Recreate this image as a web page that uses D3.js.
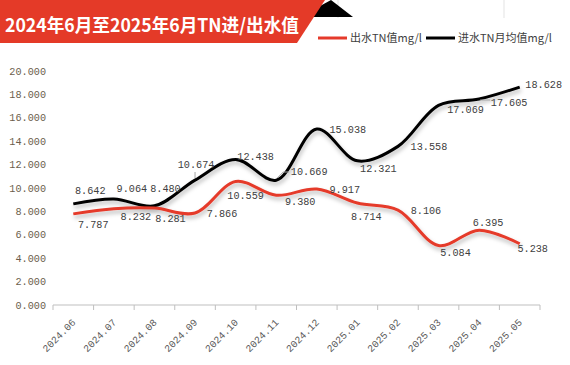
<!DOCTYPE html>
<html><head><meta charset="utf-8">
<script src="https://cdn.jsdelivr.net/npm/d3@7/dist/d3.min.js"></script>
<style>html,body{margin:0;padding:0;background:#fff;}svg{display:block;}</style>
</head><body>
<script>
const months = ["2024.06","2024.07","2024.08","2024.09","2024.10","2024.11","2024.12","2025.01","2025.02","2025.03","2025.04","2025.05"];
const outflowTN = [7.787,8.232,8.281,7.866,10.559,9.380,9.917,8.714,8.106,5.084,6.395,5.238];
const inflowTN = [8.642,9.064,8.480,10.674,12.438,10.669,15.038,12.321,13.558,17.069,17.605,18.628];
const yTicks = [0,2,4,6,8,10,12,14,16,18,20];
const titleText = "2024年6月至2025年6月TN进/出水值";
const seriesNames = ["出水TN值mg/l","进水TN月均值mg/l"];

// label offsets (layout, px)
const inLabelOff = [[17,-13],[18,-11],[11,-17],[1,-16],[20,-3],[33,-9],[31,0],[21,8],[31,0],[27,4],[30,3],[24,-3]];
const outLabelOff = [[20,11],[22,8],[16,10],[27,0],[10,14],[24,6],[28,0],[9,13],[28,0],[17,7],[9,-8],[13,5]];

const W=570,H=365;
const svg=d3.select("body").append("svg").attr("width",W).attr("height",H);
const defs=svg.append("defs");
const f=defs.append("filter").attr("id","sh").attr("x","-10%").attr("y","-30%").attr("width","120%").attr("height","160%");
f.append("feDropShadow").attr("dx",1).attr("dy",3).attr("stdDeviation",2).attr("flood-color","#000").attr("flood-opacity",0.28);

// faint sheet gridlines at top
svg.append("line").attr("x1",338).attr("x2",338).attr("y1",0).attr("y2",18).attr("stroke","#e3e3e3");
svg.append("line").attr("x1",504).attr("x2",504).attr("y1",0).attr("y2",18).attr("stroke","#e3e3e3");

// banner
svg.append("polygon").attr("points","331,0 353,17 300,17").attr("fill","#000");
svg.append("polygon").attr("points","0,0 325,0 297,43 0,43").attr("fill","#e43a28");
svg.append("text").attr("x",5).attr("y",32).attr("fill","#fff")
  .attr("font-family","'Noto Sans CJK SC','Noto Sans',sans-serif").attr("font-weight","bold")
  .attr("font-size",18.5).attr("textLength",294).attr("lengthAdjust","spacingAndGlyphs").text(titleText);

// legend
const legColors=["#e53a2b","#000"];
const legX=[[318,347,350],[426,455,458]];
seriesNames.forEach((n,i)=>{
  svg.append("line").attr("x1",legX[i][0]).attr("x2",legX[i][1]).attr("y1",38).attr("y2",38).attr("stroke",legColors[i]).attr("stroke-width",3);
  svg.append("text").attr("x",legX[i][2]).attr("y",42).attr("fill","#404040")
    .attr("font-family","'Noto Sans CJK SC',sans-serif").attr("font-size",11).text(n);
});

const x=d3.scaleBand().domain(months).range([53,540]);
const y=d3.scaleLinear().domain([0,20]).range([305,71]);
const cx=d=>x(d)+x.bandwidth()/2;
const mono="'Liberation Mono','DejaVu Sans Mono',monospace";

// y labels
svg.append("g").selectAll("text").data(yTicks).join("text")
  .attr("x",46).attr("y",d=>y(d)).attr("dy","0.35em").attr("text-anchor","end")
  .attr("fill","#6b5e4c").attr("font-family",mono).attr("font-size",10.2).text(d=>d3.format(".3f")(d));

// x axis
const xa=svg.append("g");
xa.append("line").attr("x1",53).attr("x2",540).attr("y1",305).attr("y2",305).attr("stroke","#bfbfbf");
const edges=months.map(m=>x(m)).concat([540]);
xa.selectAll("line.t").data(edges).join("line").attr("class","t")
  .attr("x1",d=>d).attr("x2",d=>d).attr("y1",305).attr("y2",310).attr("stroke","#bfbfbf");
xa.selectAll("text").data(months).join("text")
  .attr("transform",d=>`translate(${cx(d)+3},${323}) rotate(-45)`)
  .attr("text-anchor","end").attr("fill","#595959").attr("font-family",mono).attr("font-size",10).text(d=>d);

// lines
const line=d3.line().x((d,i)=>cx(months[i])).y(d=>y(d)).curve(d3.curveCatmullRom.alpha(0.5));
svg.append("path").datum(inflowTN).attr("d",line).attr("fill","none").attr("stroke","#000").attr("stroke-width",3).attr("filter","url(#sh)");
svg.append("path").datum(outflowTN).attr("d",line).attr("fill","none").attr("stroke","#e53a2b").attr("stroke-width",3).attr("filter","url(#sh)");

// leader lines
const ll=svg.append("g").attr("stroke","#a6a6a6").attr("fill","none").attr("stroke-width",1);
ll.append("polyline").attr("points",`${cx(months[3])},172 ${cx(months[3])},178`);
ll.append("polyline").attr("points",`${cx(months[5])+1},178 ${cx(months[5])+7},172 ${cx(months[5])+13},172`);
ll.append("polyline").attr("points",`${cx(months[10])+1},100 ${cx(months[10])+11},100`);

// data labels
function labels(vals,offs){
  svg.append("g").selectAll("text").data(vals).join("text")
    .attr("x",(d,i)=>cx(months[i])+offs[i][0]).attr("y",(d,i)=>y(d)+offs[i][1]).attr("dy","0.35em")
    .attr("text-anchor","middle").attr("fill","#404040").attr("font-family",mono).attr("font-size",10.2)
    .text(d=>d3.format(".3f")(d));
}
labels(inflowTN,inLabelOff);
labels(outflowTN,outLabelOff);
</script>
</body></html>
